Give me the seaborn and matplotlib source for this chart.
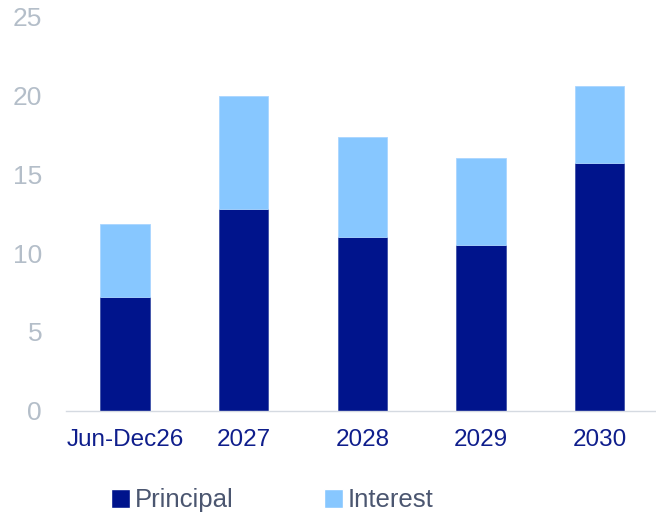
import matplotlib
matplotlib.use("Agg")
import matplotlib.pyplot as plt
from matplotlib.patches import Patch
import numpy as np
import pandas as pd
import seaborn as sns

# Debt service schedule (bn)
periods = ["Jun-Dec26", "2027", "2028", "2029", "2030"]
principal = [7.2, 12.8, 11.05, 10.5, 15.7]
interest = [4.65, 7.2, 6.35, 5.55, 4.95]

principal_color = "#00148C"
interest_color = "#87C7FF"
ytick_color = "#B4BEC9"
xtick_color = "#0F1E8C"
legend_text_color = "#4B5670"
axis_color = "#D5DAE1"

sns.set_theme(style="white")
plt.rcParams["font.family"] = ["Liberation Sans", "DejaVu Sans"]

df = pd.DataFrame({"period": periods, "Principal": principal, "Interest": interest})

fig = plt.figure(figsize=(6.56, 5.14), dpi=100)
ax = fig.add_axes([65.7 / 656, 1 - 410.7 / 514, (659 - 65.7) / 656, (410.7 - 17) / 514])

bar_w = 0.415
sns.barplot(data=df, x="period", y="Principal", color=principal_color,
            width=bar_w, saturation=1, ax=ax, edgecolor="#3F52A8", linewidth=0.6)
sns.barplot(data=df, x="period", y="Interest", bottom=df["Principal"], color=interest_color,
            width=bar_w, saturation=1, ax=ax, edgecolor="#A9D6FF", linewidth=0.6)

ax.set_xlim(-0.5, 4.5)
ax.set_ylim(0, 25)
ax.set_yticks([0, 5, 10, 15, 20, 25])
ax.set_xlabel("")
ax.set_ylabel("")

for side in ["top", "right", "left"]:
    ax.spines[side].set_visible(False)
ax.spines["bottom"].set_color(axis_color)
ax.spines["bottom"].set_linewidth(1.0)

ax.tick_params(axis="y", length=0, pad=17, labelsize=19, labelcolor=ytick_color)
ax.tick_params(axis="x", which="major", length=0, pad=13, labelsize=17.5, labelcolor=xtick_color)
ax.set_xticks(np.arange(-0.5, 5.0, 1.0), minor=True)
ax.tick_params(axis="x", which="minor", length=6, width=1.0, color=axis_color, direction="out")

handles = [Patch(facecolor=principal_color, label="Principal"),
           Patch(facecolor=interest_color, label="Interest")]
leg = fig.legend(handles=handles, loc="center", bbox_to_anchor=(0.415, 0.027), ncol=2,
                 frameon=False, fontsize=18.5, handlelength=0.75, handleheight=0.75,
                 handletextpad=0.2, columnspacing=3.5)
for t in leg.get_texts():
    t.set_color(legend_text_color)

fig.savefig("out.png", dpi=100)
